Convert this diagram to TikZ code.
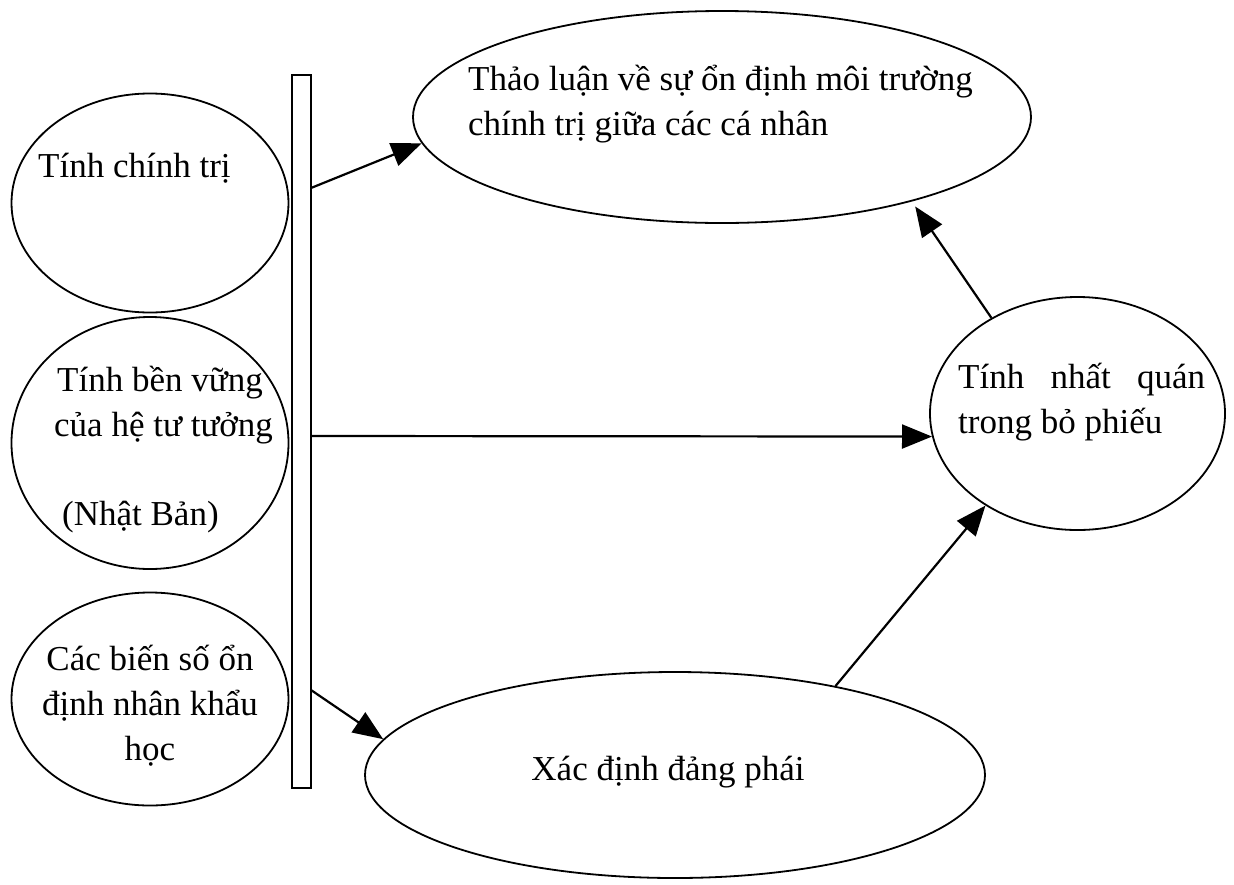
\documentclass[tikz,border=0pt]{standalone}
\usepackage{fontspec}
\setmainfont{Liberation Serif}
\usetikzlibrary{shapes.geometric,arrows.meta}

\begin{document}
\begin{tikzpicture}[x=1pt,y=-1pt,
  oval/.style={draw,ellipse,line width=1.8pt,inner sep=0pt},
  arr/.style={line width=2.2pt,-{Triangle[length=30pt,width=24pt]}},
  lbl/.style={inner sep=0pt,font=\fontsize{35}{45}\selectfont}]
  \useasboundingbox (0,0) rectangle (1234,884);

  % Left column: three ovals and the bar
  \node[oval,minimum width=277pt,minimum height=219pt] (chinhtri) at (150,203) {};
  \node[oval,minimum width=277pt,minimum height=252pt] (benvung) at (150,443) {};
  \node[oval,minimum width=277pt,minimum height=213pt] (nhankhau) at (150,699) {};
  \node[draw,line width=1.3pt,inner sep=0pt,minimum width=19pt,minimum height=713pt] (bar) at (301.5,431.5) {};

  % Right ovals
  \node[oval,minimum width=618pt,minimum height=212pt] (thaoluan) at (722,117) {};
  \node[oval,minimum width=295pt,minimum height=233pt] (nhatquan) at (1077.5,413.5) {};
  \node[oval,minimum width=620pt,minimum height=206pt] (dangphai) at (675,775) {};

  % Labels (multi-line ones sit on their last line)
  \node[lbl,anchor=base west] (l1) at (38,177) {Tính chính trị};
  \node[lbl,anchor=base west,align=left] (l2) at (54,525)
    {\hspace*{3pt}Tính bền vững\\của hệ tư tưởng\\[44pt]\hspace*{8pt}(Nhật Bản)};
  \node[lbl,anchor=base,align=center] (l3) at (150,760) {Các biến số ổn\\định nhân khẩu\\học};
  \node[lbl,anchor=base west,align=left] (l4) at (468,135)
    {Thảo luận về sự ổn định môi trường\\chính trị giữa các cá nhân};
  \node[lbl,anchor=base west,align=left] (l5) at (958,433)
    {\makebox[247pt][s]{Tính nhất quán}\\trong bỏ phiếu};
  \node[lbl,anchor=base] (l6) at (668,780) {Xác định đảng phái};

  % Arrows out of the bar
  \coordinate (b1) at (311,188);
  \coordinate (b2) at (311,436);
  \coordinate (b3) at (311,690);
  \draw[arr] (b1) -- (thaoluan.185);
  \draw[arr] (b2) -- (nhatquan.189);
  \draw[arr] (b3) -- (dangphai.173);

  % Arrows on the right
  \draw[arr] (dangphai.29) -- (nhatquan.225);
  \draw[arr,shorten >=6pt] (nhatquan.132) -- (thaoluan.336);
\end{tikzpicture}
\end{document}
